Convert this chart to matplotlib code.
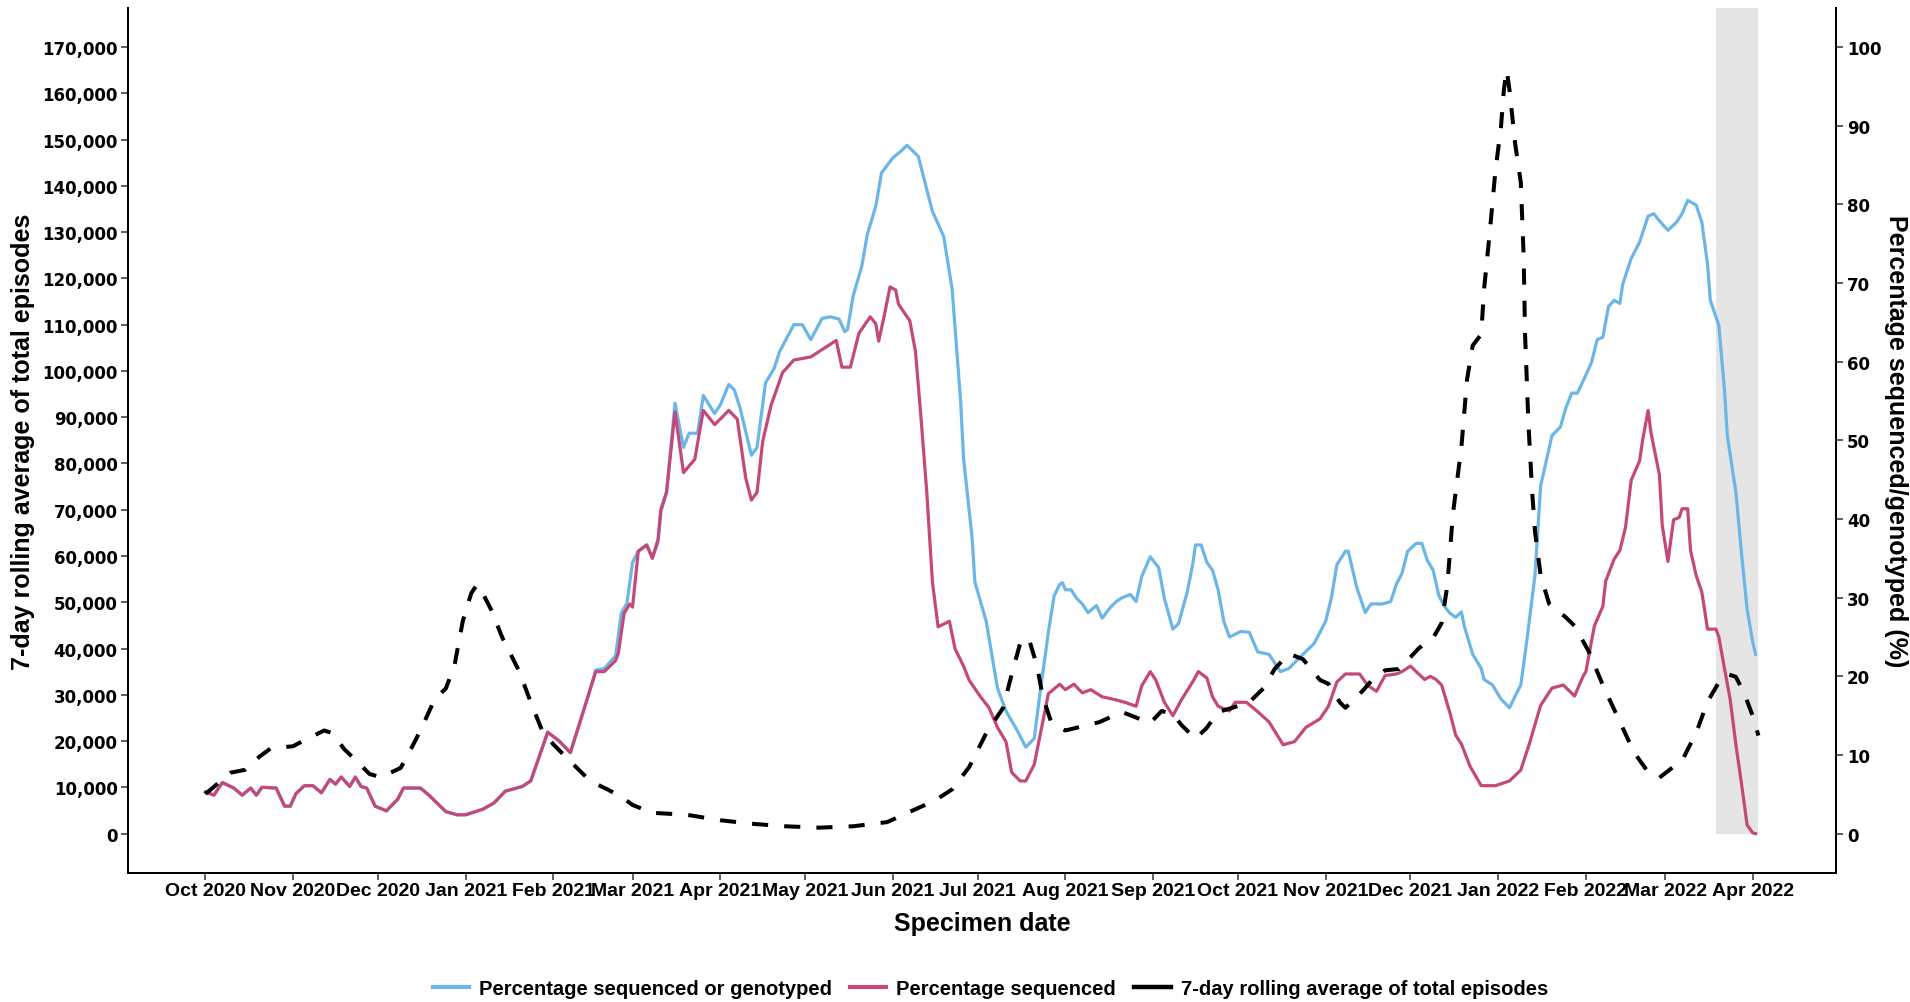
import numpy as np
import pandas as pd
import matplotlib
matplotlib.use("Agg")
import matplotlib.pyplot as plt
import matplotlib.dates as mdates
from matplotlib.lines import Line2D
from matplotlib.ticker import FuncFormatter, MultipleLocator

# Data; days are counted from 1 Oct 2020
start = pd.Timestamp("2020-10-01")

seq_days = [0, 3, 6, 10, 13, 16, 18, 20, 25, 28, 30, 32, 35, 38, 41, 44, 46, 48, 51, 53,
            55, 57, 60, 64, 68, 70, 76, 79, 85, 89, 92, 98, 102, 106, 112, 115, 121, 125, 129, 134,
            138, 141, 145, 146, 148, 150, 151, 153, 156, 158, 160, 161, 163, 166, 169, 173, 176, 180, 182, 185,
            188, 191, 193, 195, 197, 200, 204, 208, 214, 217, 223, 225, 228, 231, 235, 237, 238, 240, 242, 244,
            245, 249, 251, 253, 255, 257, 259, 263, 265, 268, 270, 274, 277, 280, 283, 285, 288, 290, 293, 296,
            298, 302, 304, 307, 310, 313, 317, 322, 325, 329, 331, 334, 336, 339, 342, 345, 349, 351, 354, 356,
            358, 362, 364, 368, 372, 376, 381, 385, 389, 394, 397, 400, 403, 408, 411, 414, 417, 421, 423, 426,
            428, 431, 433, 435, 437, 440, 442, 444, 447, 451, 456, 461, 465, 468, 472, 476, 480, 484, 487, 488,
            491, 494, 495, 498, 500, 502, 504, 507, 508, 510, 511, 514, 515, 517, 519, 521, 522, 524, 525, 527,
            529, 531, 534, 535, 537, 539, 541, 543, 545, 547, 548]
seq_pct = [5.3, 4.9, 6.5, 5.8, 4.9, 5.8, 4.9, 5.9, 5.8, 3.5, 3.5, 5.1, 6.1, 6.1, 5.2, 6.9, 6.3, 7.2, 6.0, 7.2,
           6.0, 5.8, 3.5, 2.9, 4.4, 5.8, 5.8, 4.9, 2.8, 2.4, 2.4, 3.1, 3.9, 5.4, 6.0, 6.7, 12.9, 11.8, 10.3, 16.0,
           20.6, 20.6, 22.0, 23.0, 28.0, 29.2, 28.8, 35.9, 36.7, 35.0, 37.4, 41.2, 43.4, 53.6, 45.9, 47.6, 53.8, 52.0, 52.7, 53.8,
           52.7, 45.2, 42.4, 43.4, 49.9, 54.5, 58.6, 60.2, 60.6, 61.3, 62.7, 59.3, 59.3, 63.6, 65.7, 64.8, 62.6, 65.9, 69.5, 69.1,
           67.3, 65.2, 61.3, 52.7, 43.4, 32.0, 26.3, 27.0, 23.5, 21.3, 19.5, 17.4, 16.0, 13.5, 11.7, 7.8, 6.7, 6.7, 8.8, 14.2,
           17.8, 19.0, 18.3, 19.0, 17.9, 18.3, 17.4, 17.0, 16.7, 16.2, 18.8, 20.6, 19.5, 16.7, 15.0, 17.0, 19.3, 20.6, 19.8, 17.4,
           16.2, 15.6, 16.7, 16.7, 15.5, 14.2, 11.3, 11.7, 13.5, 14.6, 16.2, 19.3, 20.3, 20.3, 18.8, 18.1, 20.1, 20.3, 20.6, 21.3,
           20.6, 19.6, 20.0, 19.6, 18.9, 15.3, 12.5, 11.4, 8.6, 6.1, 6.1, 6.7, 8.1, 11.4, 16.3, 18.5, 18.9, 17.5, 20.0, 20.6,
           26.4, 28.9, 32.1, 34.9, 36.0, 38.9, 44.9, 47.4, 49.9, 53.8, 51.0, 45.6, 39.2, 34.6, 39.9, 40.2, 41.3, 41.3, 36.0, 32.8,
           30.7, 26.0, 26.0, 25.0, 21.0, 17.1, 11.4, 6.4, 1.1, 0.1, 0.0]

seqgeno_days = [0, 3, 6, 10, 13, 16, 18, 20, 25, 28, 30, 32, 35, 38, 41, 44, 46, 48, 51, 53,
                55, 57, 60, 64, 68, 70, 76, 79, 85, 89, 92, 98, 102, 106, 112, 115, 121, 125, 129, 134,
                138, 141, 145, 147, 149, 151, 153, 156, 158, 160, 161, 163, 166, 169, 171, 174, 176, 180, 182, 185,
                187, 189, 193, 195, 198, 201, 203, 208, 211, 214, 218, 221, 224, 226, 227, 229, 232, 234, 237, 239,
                243, 246, 248, 252, 257, 261, 264, 267, 268, 271, 272, 276, 280, 283, 287, 290, 293, 295, 298, 300,
                302, 303, 304, 306, 308, 310, 312, 315, 317, 320, 322, 324, 327, 329, 331, 334, 337, 339, 342, 344,
                347, 349, 350, 352, 354, 356, 358, 360, 362, 366, 369, 372, 376, 380, 383, 388, 392, 396, 398, 400,
                403, 404, 407, 410, 412, 416, 419, 421, 423, 425, 428, 430, 432, 434, 436, 438, 440, 442, 444, 445,
                448, 451, 452, 455, 458, 461, 463, 465, 467, 470, 472, 476, 479, 481, 483, 485, 488, 490, 492, 494,
                496, 498, 500, 501, 504, 507, 510, 512, 514, 517, 520, 522, 524, 527, 529, 531, 532, 535, 537, 538,
                541, 543, 545, 547, 548]
seqgeno_pct = [5.3, 4.9, 6.5, 5.8, 4.9, 5.8, 4.9, 5.9, 5.8, 3.5, 3.5, 5.1, 6.1, 6.1, 5.2, 6.9, 6.3, 7.2, 6.0, 7.2,
               6.0, 5.8, 3.5, 2.9, 4.4, 5.8, 5.8, 4.9, 2.8, 2.4, 2.4, 3.1, 3.9, 5.4, 6.0, 6.7, 12.9, 11.8, 10.3, 16.0,
               20.8, 21.0, 22.6, 28.0, 29.3, 34.5, 35.9, 36.7, 35.1, 37.0, 40.9, 43.4, 54.7, 49.1, 50.9, 50.9, 55.7, 53.4, 54.5, 57.1,
               56.4, 54.1, 48.1, 49.1, 57.3, 59.1, 61.3, 64.7, 64.7, 62.8, 65.5, 65.7, 65.4, 63.8, 64.1, 68.4, 72.1, 76.2, 79.8, 84.0,
               85.9, 86.8, 87.5, 86.1, 79.1, 75.9, 69.1, 54.8, 47.7, 37.7, 32.0, 27.0, 18.5, 15.6, 13.1, 11.0, 12.1, 17.8, 25.6, 30.2,
               31.7, 31.9, 31.0, 31.0, 29.9, 29.2, 28.1, 29.0, 27.4, 28.8, 29.5, 30.0, 30.4, 29.5, 32.7, 35.2, 33.8, 29.9, 26.0, 26.7,
               30.6, 34.2, 36.7, 36.7, 34.5, 33.5, 31.0, 27.0, 25.0, 25.7, 25.6, 23.1, 22.8, 20.6, 21.0, 22.8, 24.2, 27.0, 29.9, 34.2,
               35.9, 35.9, 31.3, 28.1, 29.2, 29.2, 29.5, 31.7, 33.1, 35.9, 36.9, 36.9, 34.7, 33.5, 30.3, 28.9, 28.0, 27.5, 28.2, 26.4,
               22.8, 21.0, 19.6, 18.9, 17.1, 16.0, 17.5, 18.9, 24.2, 32.8, 44.2, 50.6, 51.7, 54.2, 56.0, 56.0, 58.3, 59.9, 62.8, 63.1,
               67.0, 67.8, 67.4, 69.8, 73.1, 75.2, 78.5, 78.8, 77.9, 76.7, 77.7, 78.8, 80.5, 79.9, 77.7, 72.4, 67.8, 64.6, 56.4, 50.6,
               43.5, 35.7, 28.5, 24.3, 22.8]

episode_days = [0, 9, 14, 19, 23, 31, 35, 42, 45, 49, 54, 58, 62, 69, 72, 76, 81, 85, 88, 91,
                94, 96, 98, 101, 105, 111, 115, 119, 123, 129, 136, 142, 147, 151, 158, 170, 182, 194, 205, 217,
                229, 241, 250, 258, 264, 270, 276, 282, 285, 288, 291, 294, 296, 299, 302, 304, 316, 324, 329, 334,
                338, 342, 345, 350, 354, 358, 363, 369, 374, 378, 383, 388, 394, 397, 401, 403, 409, 412, 417, 422,
                425, 429, 434, 437, 439, 441, 444, 446, 448, 451, 452, 454, 456, 458, 459, 460, 461, 463, 465, 466,
                466.5, 467.7, 469, 470, 472, 475, 481, 484, 489, 494, 500, 505, 510, 514, 518, 522, 527, 531, 535, 538,
                541, 544, 547, 549]
episodes_k = [8.6, 13.2, 13.8, 16.6, 18.4, 18.9, 20.2, 22.3, 21.7, 18.3, 15.4, 12.9, 12.2, 14.2, 17.5, 22.3, 29.0, 31.4, 36.2, 46.0,
              52.0, 53.8, 52.0, 48.4, 42.3, 35.0, 28.4, 22.3, 19.3, 15.6, 11.4, 9.6, 8.0, 6.2, 4.5, 4.1, 2.9, 2.1, 1.6, 1.3,
              1.6, 2.5, 5.0, 7.2, 9.6, 14.4, 21.7, 27.2, 34.4, 41.1, 42.3, 36.2, 29.6, 24.1, 22.9, 22.3, 24.1, 26.3, 25.1, 23.9,
              26.5, 25.9, 23.5, 20.5, 22.9, 26.3, 27.2, 28.4, 31.4, 35.6, 38.9, 37.7, 33.2, 32.4, 28.4, 27.2, 30.8, 32.9, 35.3, 35.6,
              37.5, 40.1, 42.3, 45.5, 53.5, 69.1, 83.6, 98.2, 105.5, 107.9, 117.6, 129.8, 143.1, 152.8, 160.7, 165.0, 160.7, 149.1, 140.7, 124.9,
              107.9, 88.5, 74.0, 65.4, 55.8, 49.7, 46.7, 44.9, 39.4, 32.1, 24.2, 17.6, 13.3, 12.1, 14.0, 15.8, 21.8, 28.5, 32.7, 34.5,
              33.9, 30.3, 25.4, 21.2]

shade_dates = ["2022-03-19", "2022-04-03"]

blue = "#6BB6E6"
pink = "#C5487A"

def to_dates(days):
    return start + pd.to_timedelta(np.array(days, dtype=float), unit="D")

fig = plt.figure(figsize=(19.1, 10.03), dpi=100)
# percentage axis drawn first (ticks on the right), episodes axis on top (ticks on the left)
ax = fig.add_axes([0.0669, 0.1286, 0.8944, 0.8628])
ax2 = ax.twinx()

shade = pd.to_datetime(shade_dates)
ax.fill_between(shade, 0, 105, color="#E5E5E5", linewidth=0, zorder=0)

ax.plot(to_dates(seqgeno_days), seqgeno_pct, color=blue, lw=2.3, solid_joinstyle="round")
ax.plot(to_dates(seq_days), seq_pct, color=pink, lw=2.3, solid_joinstyle="round")
ax2.plot(to_dates(episode_days), np.array(episodes_k) * 1000, color="black", lw=2.9,
         linestyle=(0, (4, 4)))

ax.set_ylim(-5, 105)
ax2.set_ylim(-8500, 178500)
span = 549
xlo = mdates.date2num(start) - 0.05 * span
ax.set_xlim(xlo, xlo + 1.1 * span)

ax.yaxis.tick_right()
ax.yaxis.set_label_position("right")
ax2.yaxis.tick_left()
ax2.yaxis.set_label_position("left")

ax.yaxis.set_major_locator(MultipleLocator(10))
ax2.yaxis.set_major_locator(MultipleLocator(10000))
ax2.yaxis.set_major_formatter(FuncFormatter(lambda v, p: f"{int(v):,}"))
ax.xaxis.set_major_locator(mdates.MonthLocator())
ax.xaxis.set_major_formatter(mdates.DateFormatter("%b %Y"))

for a in (ax, ax2):
    a.spines["top"].set_visible(False)
    for s in ("left", "right", "bottom"):
        a.spines[s].set_linewidth(1.4)
    a.tick_params(length=4.8, width=1.1, color="#333333")

tick_y = dict(family="DejaVu Sans", weight="bold", size=12)
ax.tick_params(axis="y", pad=3)
ax2.tick_params(axis="y", pad=2.5)
ax.tick_params(axis="x", pad=2)
for lab in ax.get_yticklabels() + ax2.get_yticklabels():
    lab.set_fontproperties(tick_y)
for lab in ax.get_xticklabels():
    lab.set_fontfamily("Liberation Sans")
    lab.set_fontweight("bold")
    lab.set_fontsize(14)

lab_font = dict(family="Liberation Sans", weight="bold", size=18)
ax2.set_ylabel("7-day rolling average of total episodes", labelpad=5, **lab_font)
ax.set_ylabel("Percentage sequenced/genotyped (%)", rotation=270, labelpad=19, **lab_font)
ax.set_xlabel("Specimen date", labelpad=8.5, **lab_font)

handles = [Line2D([], [], color=blue, lw=3),
           Line2D([], [], color=pink, lw=3),
           Line2D([], [], color="black", lw=3.2)]
labels = ["Percentage sequenced or genotyped", "Percentage sequenced",
          "7-day rolling average of total episodes"]
fig.legend(handles, labels, loc="lower center", bbox_to_anchor=(0.5185, -0.008), ncol=3,
           frameon=False, borderpad=0.1, handlelength=1.8, handletextpad=0.5, columnspacing=0.9,
           prop=dict(family="Liberation Sans", weight="bold", size=14.5))

fig.savefig("out.png", dpi=100)
